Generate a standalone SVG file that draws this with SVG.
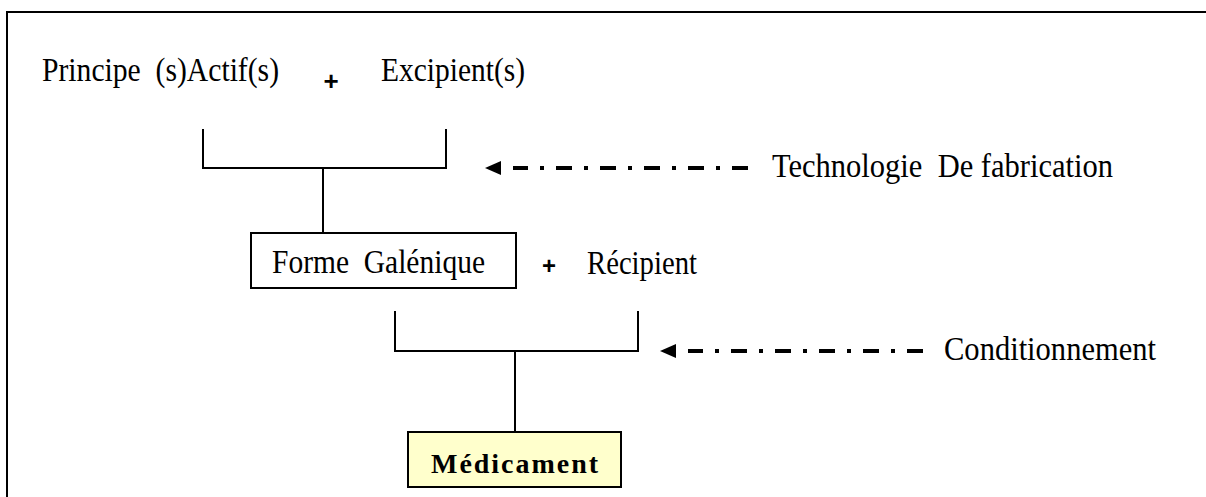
<svg xmlns="http://www.w3.org/2000/svg" width="1206" height="497" viewBox="0 0 1206 497">
  <style>
    text { font-family: "Liberation Serif", "Times New Roman", serif; fill: #000; }
    .lbl { font-size: 33px; }
    .plus { font-family: "Liberation Sans", Arial, sans-serif; font-weight: bold; text-anchor: middle; }
    .line { fill: none; stroke: #000; stroke-width: 2; }
    .flow { fill: none; stroke: #000; stroke-width: 4; stroke-dasharray: 16 12 4 12; }
    .box { fill: #fff; stroke: #000; stroke-width: 2; }
    .final { fill: #ffffcc; stroke: #000; stroke-width: 2; }
  </style>
  <defs>
    <marker id="head" markerUnits="userSpaceOnUse" markerWidth="30" markerHeight="16" refX="0" refY="7" orient="auto" overflow="visible">
      <path d="M12,0 L28,7 L12,14 Z" fill="#000"/>
    </marker>
  </defs>

  <rect width="1206" height="497" fill="#fff"/>
  <!-- outer frame, open to the right and bottom -->
  <rect x="7" y="12" width="1230" height="520" fill="none" stroke="#000" stroke-width="2"/>

  <g id="ingredients">
    <text class="lbl" x="42" y="81" textLength="237" lengthAdjust="spacingAndGlyphs" xml:space="preserve">Principe  (s)Actif(s)</text>
    <text class="plus" x="331" y="90" font-size="26">+</text>
    <text class="lbl" x="381" y="81" textLength="144" lengthAdjust="spacingAndGlyphs">Excipient(s)</text>
  </g>

  <g id="technologie">
    <text class="lbl" x="772" y="177" textLength="341" lengthAdjust="spacingAndGlyphs" xml:space="preserve">Technologie  De fabrication</text>
  </g>

  <g id="forme-galenique">
    <rect class="box" x="251" y="233" width="265" height="55"/>
    <text class="lbl" x="272" y="273" textLength="213" lengthAdjust="spacingAndGlyphs" xml:space="preserve">Forme  Galénique</text>
  </g>

  <g id="recipient">
    <text class="plus" x="549" y="274" font-size="24">+</text>
    <text class="lbl" x="587" y="274" textLength="110" lengthAdjust="spacingAndGlyphs">Récipient</text>
  </g>

  <g id="conditionnement">
    <text class="lbl" x="944" y="360" textLength="212" lengthAdjust="spacingAndGlyphs">Conditionnement</text>
  </g>

  <g id="medicament">
    <rect class="final" x="408" y="432" width="213" height="55"/>
    <text x="431" y="473" font-weight="bold" font-size="28" textLength="167" lengthAdjust="spacing">Médicament</text>
  </g>

  <g id="connectors">
    <!-- first assembly bracket and stem -->
    <path class="line" d="M203,129 V168 H446 V129"/>
    <path class="line" d="M323,168 V233"/>
    <!-- second assembly bracket and stem -->
    <path class="line" d="M395,311 V351 H638 V311"/>
    <path class="line" d="M515,351 V432"/>
    <!-- process arrows -->
    <line class="flow" x1="748" y1="168" x2="513" y2="168" marker-end="url(#head)"/>
    <line class="flow" x1="923" y1="351" x2="688" y2="351" marker-end="url(#head)"/>
  </g>
</svg>
